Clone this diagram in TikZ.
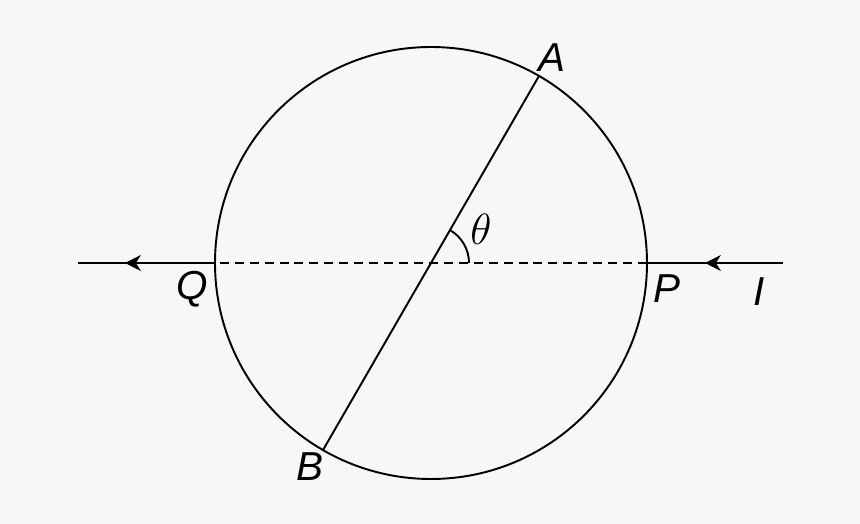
\documentclass[tikz,border=0pt]{standalone}
\usepackage{fontspec}
\setmainfont{Liberation Sans}
\usepackage{tikz}
\usetikzlibrary{arrows.meta, calc}
\definecolor{bgcol}{HTML}{F7F7F7}
\tikzstyle{wire} = [line width=1.1pt]
\tikzstyle{arrow} = [line width=1.1pt,-{Stealth[length=9pt,width=9pt,inset=2.8pt]}]
\tikzstyle{lbl} = [font=\fontsize{23}{26}\selectfont\itshape, inner sep=0pt]

\begin{document}
\begin{tikzpicture}
\fill[bgcol] (0,0) rectangle (17.2,10.48);
\coordinate (O) at (8.62,5.22);
\coordinate (Q) at ($(O)+(180:4.32)$);
\coordinate (P) at ($(O)+(0:4.32)$);
\coordinate (A) at ($(O)+(60:4.32)$);
\coordinate (B) at ($(O)+(240:4.32)$);
\coordinate (west) at (1.56,5.22);
\coordinate (east) at (15.66,5.22);
\coordinate (tipL) at (2.5,5.22);
\coordinate (tipR) at (14.1,5.22);
\draw [wire] (O) circle (4.32);
\draw [wire] (A) -- (B);
\draw [wire, dash pattern=on 5.1pt off 3.4pt] (P) -- (Q);
\draw [wire] (Q) -- (west);
\draw [arrow] (Q) -- (tipL);
\draw [wire] (east) -- (P);
\draw [arrow] (east) -- (tipR);
\draw [wire] ($(O)+(0:0.76)$) arc (0:60:0.76);
\node (labA) [lbl] at (11.04,9.32) {A};
\node (labB) [lbl] at (6.2,1.14) {B};
\node (labQ) [lbl] at (3.84,4.70) {Q};
\node (labP) [lbl] at (13.34,4.70) {P};
\node (labI) [lbl] at (15.18,4.64) {I};
\node (labT) [inner sep=0pt, font=\fontsize{23}{26}\selectfont] at (9.62,5.90) {$\theta$};
\end{tikzpicture}
\end{document}
